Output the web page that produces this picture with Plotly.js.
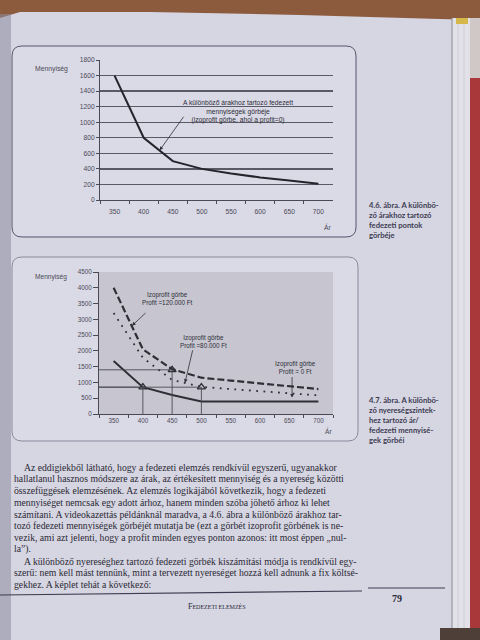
<!DOCTYPE html>
<html><head><meta charset="utf-8">
<script src="https://cdn.plot.ly/plotly-3.0.1.min.js"></script>
<style>html,body{margin:0;padding:0;background:#d6d5e2;overflow:hidden}</style>
</head><body><div id="chart" style="width:480px;height:640px"></div>
<script>
// ---- data ----
const prices = ['350','400','450','500','550','600','650','700'];
const qtyFig46 = [1600, 800, 500, 400, 340, 290, 250, 210];          // 4.6: break-even quantity per price
const qtyProfit120 = [4000, 2050, 1420, 1150, 1060, 970, 880, 790];   // Profit = 120.000 Ft
const qtyProfit80  = [3200, 1780, 1080, 860, 790, 720, 650, 590];     // Profit = 80.000 Ft
const qtyProfit0   = [1680, 850, 600, 400, 400, 400, 400, 400];       // Profit = 0 Ft
const refPrices = ['400','450','500'];
const refQty = [850, 1400, 850];
const yTicks1 = [0,200,400,600,800,1000,1200,1400,1600,1800];
const yTicks2 = [0,500,1000,1500,2000,2500,3000,3500,4000,4500];

const bodyLines = [
 'Az eddigiekből látható, hogy a fedezeti elemzés rendkívül egyszerű, ugyanakkor',
 'hallatlanul hasznos módszere az árak, az értékesített mennyiség és a nyereség közötti',
 'összefüggések elemzésének. Az elemzés logikájából következik, hogy a fedezeti',
 'mennyiséget nemcsak egy adott árhoz, hanem minden szóba jöhető árhoz ki lehet',
 'számítani. A videokazettás példánknál maradva, a 4.6. ábra a különböző árakhoz tar-',
 'tozó fedezeti mennyiségek görbéjét mutatja be (ezt a görbét izoprofit görbének is ne-',
 'vezik, ami azt jelenti, hogy a profit minden egyes ponton azonos: itt most éppen „nul-',
 'la”).',
 'A különböző nyereséghez tartozó fedezeti görbék kiszámítási módja is rendkívül egy-',
 'szerű: nem kell mást tennünk, mint a tervezett nyereséget hozzá kell adnunk a fix költsé-',
 'gekhez. A képlet tehát a következő:'
];
const indented = [0, 8];

// ---- helpers (pixel -> paper) ----
const W = 480, H = 640;
const PX = v => v / W, PY = v => 1 - v / H;
function rrect(x0, y0, x1, y1, r) {
  const X = v => (v / W).toFixed(5), Y = v => (1 - v / H).toFixed(5);
  return `M${X(x0+r)},${Y(y0)} L${X(x1-r)},${Y(y0)} Q${X(x1)},${Y(y0)} ${X(x1)},${Y(y0+r)} ` +
         `L${X(x1)},${Y(y1-r)} Q${X(x1)},${Y(y1)} ${X(x1-r)},${Y(y1)} L${X(x0+r)},${Y(y1)} ` +
         `Q${X(x0)},${Y(y1)} ${X(x0)},${Y(y1-r)} L${X(x0)},${Y(y0+r)} Q${X(x0)},${Y(y0)} ${X(x0+r)},${Y(y0)} Z`;
}
function poly(pts) {
  return 'M' + pts.map(p => `${(p[0]/W).toFixed(5)},${(1-p[1]/H).toFixed(5)}`).join(' L') + ' Z';
}
function prect(x0, y0, x1, y1, fill, layer) {
  return {type:'rect', xref:'paper', yref:'paper', x0:PX(x0), x1:PX(x1), y0:PY(y1), y1:PY(y0),
          fillcolor:fill, line:{width:0}, layer: layer || 'below'};
}
function pline(x0, y0, x1, y1, color, w) {
  return {type:'line', xref:'paper', yref:'paper', x0:PX(x0), x1:PX(x1), y0:PY(y0), y1:PY(y1),
          line:{color:color, width:w}, layer:'below'};
}

const ink = '#3a3a46';
const tickFont1 = {family:'Liberation Sans, Arial, sans-serif', size:6.7, color:'#4a4a56'};
const tickFont2 = {family:'Liberation Sans, Arial, sans-serif', size:6.3, color:'#4a4a56'};

// ---- traces ----
const traces = [
  {x: prices, y: qtyFig46, xaxis:'x', yaxis:'y', mode:'lines', line:{color:'#24242c', width:2}},
  {x: prices, y: qtyProfit120, xaxis:'x2', yaxis:'y2', mode:'lines', line:{color:'#2e2e36', width:2.2, dash:'7px,3px'}},
  {x: prices, y: qtyProfit80, xaxis:'x2', yaxis:'y2', mode:'lines', line:{color:'#2e2e36', width:1.8, dash:'1.8px,5.5px'}},
  {x: prices, y: qtyProfit0, xaxis:'x2', yaxis:'y2', mode:'lines', line:{color:'#2e2e36', width:2}},
  {x: refPrices, y: refQty, xaxis:'x2', yaxis:'y2', mode:'markers',
   marker:{symbol:'triangle-up-open', size:7, color:'#2e2e36', line:{width:1.3, color:'#2e2e36'}}}
];

// ---- shapes (page decoration, frames, reference lines) ----
const shapes = [];
shapes.push({type:'path', xref:'paper', yref:'paper', path: poly([[0,0],[480,0],[480,20],[440,19],[300,15],[150,12],[20,12],[0,18]]),
             fillcolor:'#8c5a3d', line:{width:0}, layer:'below'});
shapes.push(prect(0, 14, 11, 640, 'rgba(140,140,160,0.55)'));
shapes.push(prect(452, 18, 470, 640, '#e2e1e8'));
shapes.push(pline(452, 18, 452, 640, '#8a8a98', 1));
shapes.push(pline(458, 18, 458, 640, '#c8c8d2', 0.8));
shapes.push(pline(464, 18, 464, 640, '#c8c8d2', 0.8));
shapes.push(prect(470, 18, 480, 78, '#cfc8c6'));
shapes.push(prect(470, 78, 480, 640, '#a8383a'));
shapes.push(prect(456, 18, 468, 24, '#d6b84a'));
shapes.push(prect(440, 628, 480, 640, '#4e4038'));
// chart frames
shapes.push({type:'path', xref:'paper', yref:'paper', path: rrect(12, 46, 356, 237, 10),
             fillcolor:'#dad9e6', line:{color:'#55556a', width:1}, layer:'below'});
shapes.push({type:'path', xref:'paper', yref:'paper', path: rrect(12, 257, 358, 441, 10),
             fillcolor:'#dad9e6', line:{color:'#8a8a9c', width:1}, layer:'below'});
// lighter plot area of fig 4.7
shapes.push({type:'rect', xref:'x2 domain', yref:'y2 domain', x0:0, x1:1, y0:0, y1:1,
             fillcolor:'#c7c6d0', line:{width:0}, layer:'below'});
// footer rules
shapes.push(pline(0, 595, 362, 591, '#3c3c50', 1.2));
shapes.push(pline(368, 588, 445, 588, '#3c3c50', 1));
// reference lines in fig 4.7, built from the reference points
refPrices.forEach((p, i) => {
  const idx = prices.indexOf(p);
  shapes.push({type:'line', xref:'x2', yref:'y2', x0:-0.5, x1:idx, y0:refQty[i], y1:refQty[i],
               line:{color:'#4a4a55', width:0.9}, layer:'above'});
  shapes.push({type:'line', xref:'x2', yref:'y2', x0:idx, x1:idx, y0:0, y1:refQty[i],
               line:{color:'#4a4a55', width:0.9}, layer:'above'});
});

// ---- annotations ----
const ann = [];
function ptext(text, x, y, opts) {
  return Object.assign({xref:'paper', yref:'paper', x:PX(x), y:PY(y), text:text, showarrow:false,
    xanchor:'left', yanchor:'middle', align:'left',
    font:{family:'Liberation Sans, Arial, sans-serif', size:6.8, color:ink}}, opts || {});
}
const lab = s => ({family:'Liberation Sans, Arial, sans-serif', size:s, color:'#4a4a56'});
ann.push(ptext('Mennyiség', 33, 69, {font:lab(6.8)}));
ann.push(ptext('Ár', 322, 227, {font:lab(6.8)}));
ann.push(ptext('Mennyiség', 33, 277, {font:lab(6.6)}));
ann.push(ptext('Ár', 323, 431, {font:lab(6.6)}));
// chart 1 label + arrow
ann.push(ptext('A különböző árakhoz tartozó fedezett<br>mennyiségek görbéje<br>(izoprofit görbe, ahol a profit=0)', 238, 111,
  {xanchor:'center', align:'center', font:{family:'Liberation Sans, Arial, sans-serif', size:6.7, color:'#2e2e38'}}));
ann.push({xref:'x', yref:'y', x:1.55, y:640, text:'', showarrow:true, ax:25, ay:-35,
          arrowhead:2, arrowsize:0.9, arrowwidth:0.8, arrowcolor:'#2e2e38'});
// chart 2 labels + arrows
const f2 = {family:'Liberation Sans, Arial, sans-serif', size:6.3, color:'#2e2e38'};
ann.push(ptext('Izoprofit görbe<br>Profit =120.000 Ft', 167, 298, {xanchor:'center', align:'center', font:f2}));
ann.push(ptext('Izoprofit görbe<br>Profit =80.000 Ft', 203, 341, {xanchor:'center', align:'center', font:f2}));
ann.push(ptext('Izoprofit görbe<br>Profit = 0 Ft', 295, 367, {xanchor:'center', align:'center', font:f2}));
ann.push({xref:'x2', yref:'y2', x:0.63, y:2800, text:'', showarrow:true, ax:15, ay:-14,
          arrowhead:2, arrowsize:0.9, arrowwidth:0.8, arrowcolor:'#2e2e38'});
ann.push({xref:'x2', yref:'y2', x:2.44, y:990, text:'', showarrow:true, ax:8, ay:-34,
          arrowhead:2, arrowsize:0.9, arrowwidth:0.8, arrowcolor:'#2e2e38'});
ann.push({xref:'x2', yref:'y2', x:6.1, y:520, text:'', showarrow:true, ax:0, ay:-22,
          arrowhead:2, arrowsize:0.9, arrowwidth:0.8, arrowcolor:'#2e2e38'});
// figure captions
const capFont = {family:'Lato, Noto Sans, sans-serif', size:7.6, color:'#3c3c52', weight:'bold'};
ann.push(ptext('4.6. ábra. A különbö-<br>ző árakhoz tartozó<br>fedezeti pontok<br>görbéje', 367, 198,
  {yanchor:'top', font:capFont}));
ann.push(ptext('4.7. ábra. A különbö-<br>ző nyereségszintek-<br>hez tartozó ár/<br>fedezeti mennyisé-<br>gek görbéi', 367, 393,
  {yanchor:'top', font:capFont}));
// body text
const bodyFont = {family:'Liberation Serif, Times New Roman, serif', size:9.7, color:'#2a2a34'};
bodyLines.forEach((t, i) => {
  ann.push(ptext(t, indented.includes(i) ? 22 : 12, 467 + 11.75 * i, {font:bodyFont}));
});
// footer
ann.push(ptext('F<span style="font-size:6px">EDEZETI ELEMZÉS</span>', 217, 606,
  {xanchor:'center', font:{family:'Liberation Serif, serif', size:8, color:'#2a2a36'}}));
ann.push(ptext('79', 397, 598, {xanchor:'center',
  font:{family:'Liberation Serif, serif', size:10, color:'#2a2a36', weight:'bold'}}));

const axBase = {showgrid:false, zeroline:false, showline:true, linecolor:'#4a4a55', linewidth:1,
                ticks:'outside', tickcolor:'#4a4a55', ticklen:3, tickwidth:1, fixedrange:true};

const layout = {
  width:W, height:H, margin:{l:0, r:0, t:0, b:0},
  paper_bgcolor:'#d6d5e2', plot_bgcolor:'#bab9c4', showlegend:false,
  xaxis: Object.assign({}, axBase, {domain:[PX(100), PX(333)], anchor:'y', type:'category',
          range:[-0.5, 7.5], tickson:'boundaries', tickfont:tickFont1, ticklabelstandoff:5}),
  yaxis: Object.assign({}, axBase, {domain:[PY(200), PY(60)], anchor:'x', range:[0, 1800],
          tickvals:yTicks1, tickfont:tickFont1, showgrid:true, gridcolor:'#5a5a66', gridwidth:1.3}),
  xaxis2: Object.assign({}, axBase, {domain:[PX(99), PX(333)], anchor:'y2', type:'category',
          range:[-0.5, 7.5], tickson:'boundaries', tickfont:tickFont2}),
  yaxis2: Object.assign({}, axBase, {domain:[PY(414), PY(272)], anchor:'x2', range:[0, 4500],
          tickvals:yTicks2, tickfont:tickFont2, ticklen:5}),
  shapes: shapes,
  annotations: ann
};

Plotly.newPlot('chart', traces, layout, {staticPlot:true, displayModeBar:false});
</script>
</body></html>
